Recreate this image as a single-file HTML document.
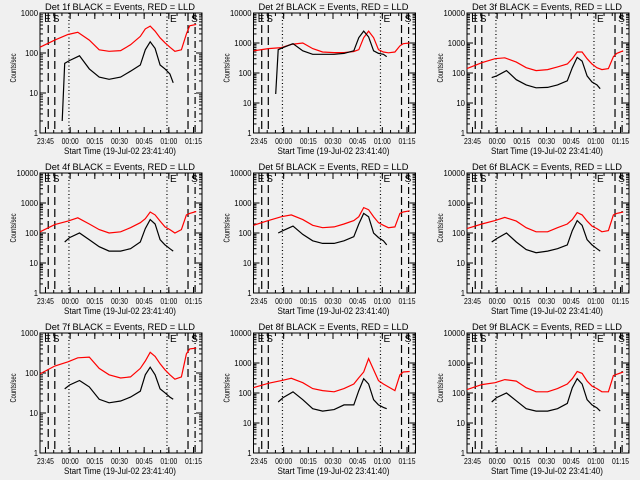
<!DOCTYPE html>
<html><head><meta charset="utf-8">
<style>
html,body{margin:0;padding:0;background:#f0f0f0;}
svg{display:block;font-family:"Liberation Sans",sans-serif;}
</style></head>
<body>
<svg id="chart" width="640" height="480" viewBox="0 0 640 480" xmlns="http://www.w3.org/2000/svg">
<rect x="0" y="0" width="640" height="480" fill="#f0f0f0"/>
</svg>
<script>
// minutes after 23:41:40
const redTimes = [0,9,17,23,30,36,42,49,55,61,64,67,70,73,76,79,82,86,89,91,95];
const blackTimes = [13.5,15,18,24,30,36,42,49,55,61,64,67,70,73,76,79,81];
const detNames = ["1f","2f","3f","4f","5f","6f","7f","8f","9f"];
const decades = [3,4,4,4,4,4,3,4,4];
const red1 = [140,210,290,330,210,120,110,115,160,260,400,470,350,240,180,140,110,120,300,480,520];
const red2 = [550,650,700,900,1000,650,500,480,480,520,600,1500,2500,1500,600,500,470,500,800,950,1000];
const red3 = [140,220,300,320,230,150,120,130,160,200,300,500,500,300,200,150,130,140,350,450,550];
const red4 = [110,190,250,320,200,130,100,110,150,220,300,500,400,250,160,130,100,130,400,450,520];
const red5 = [180,260,350,400,280,180,150,160,200,260,350,700,600,350,220,180,150,160,450,500,550];
const red6 = [140,200,260,330,250,150,110,110,150,200,280,480,400,250,170,140,110,120,400,450,500];
const red7 = [95,150,190,240,250,130,90,75,80,130,200,330,260,170,120,90,70,80,300,400,420];
const red8 = [150,210,260,310,220,140,120,110,140,200,320,500,1400,600,260,200,160,120,400,500,520];
const red9 = [130,190,220,280,250,150,110,110,140,200,300,520,450,250,170,140,110,110,380,420,500];
const black1 = [2,55,65,85,40,25,22,25,35,50,120,190,130,50,40,30,18];
const black2 = [20,600,700,950,550,420,420,420,450,550,1500,2500,1600,550,450,420,350];
const black3 = [null,70,80,120,60,40,32,33,40,55,150,330,250,80,50,40,30];
const black4 = [null,50,70,100,60,35,25,25,30,50,140,280,200,60,40,30,25];
const black5 = [null,100,120,170,90,55,45,45,55,75,200,450,350,100,70,55,40];
const black6 = [null,50,65,100,50,28,22,25,30,40,120,260,180,60,40,30,25];
const black7 = [null,40,50,65,45,22,18,20,25,35,90,140,90,40,32,25,22];
const black8 = [null,50,70,110,60,30,25,28,40,40,120,300,200,60,40,33,30];
const black9 = [null,50,70,100,55,30,25,25,30,45,150,300,200,60,40,32,25];
const reds = [red1,red2,red3,red4,red5,red6,red7,red8,red9];
const blacks = [black1,black2,black3,black4,black5,black6,black7,black8,black9];
const tickLabels = ["23:45","00:00","00:15","00:30","00:45","01:00","01:15"];
const tickMinutes = [3.33,18.33,33.33,48.33,63.33,78.33,93.33];
const markerMinutes = [5,9,17.6,77.2,90,94.3];

const NS="http://www.w3.org/2000/svg";
const svg=document.getElementById('chart');
function mk(tag,attrs,parent){const e=document.createElementNS(NS,tag);for(const k in attrs)e.setAttribute(k,attrs[k]);(parent||svg).appendChild(e);return e;}
const T_MAX=98.5, BW=162, BH=120;
for(let p=0;p<9;p++){
  const col=p%3,row=Math.floor(p/3);
  const L=40+col*213.5, T=13+row*160, R=L+BW, B=T+BH;
  const g=mk('g',{});
  
  
  const nd=decades[p];
  const xs=t=>L+t/T_MAX*BW;
  const ys=v=>B-Math.log10(v)/nd*BH;
  const title=mk('text',{x:(L+R)/2-1,y:T-3,'font-size':9.5,'text-anchor':'middle',fill:'#000',textLength:150,lengthAdjust:'spacingAndGlyphs'},g);
  title.textContent='Det '+detNames[p]+' BLACK = Events, RED = LLD';
  
  
  markerMinutes.forEach((m,i)=>{
    const x=xs(m);
    const dot=(i==2||i==3);
    const ln=mk('line',{x1:x,x2:x,y1:T,y2:B,stroke:'#000','stroke-width':1.2,'stroke-dasharray':dot?'1,2.5':(i==5?'7,3,1,3':'8,4')},g);
    
    
  });
  [['E',xs(markerMinutes[0])-4],['S',xs(markerMinutes[1])-2],['E',xs(markerMinutes[3])+3],['S',xs(markerMinutes[5])-4]].forEach(a=>{
    const t=mk('text',{x:a[1],y:T+9,'font-size':10,fill:'#000'},g);t.textContent=a[0];
    
    
  });
  const box=mk('rect',{x:L,y:T,width:BW,height:BH,fill:'none',stroke:'#000','stroke-width':1},g);
  
  
  for(let d=0;d<=nd;d++){
    const y=B-d/nd*BH;
    mk('line',{x1:L,x2:L+6,y1:y,y2:y,stroke:'#000'},g);
    mk('line',{x1:R,x2:R-6,y1:y,y2:y,stroke:'#000'},g);
    const s=String(Math.pow(10,d));
    const lab=mk('text',{x:L-2,y:y+3,'font-size':8.5,'text-anchor':'end',fill:'#000',textLength:s.length*4.3,lengthAdjust:'spacingAndGlyphs'},g);
    lab.textContent=s;
    
    
    if(d<nd)for(let k=2;k<10;k++){const yy=ys(Math.pow(10,d)*k);
      mk('line',{x1:L,x2:L+3,y1:yy,y2:yy,stroke:'#000'},g);
      mk('line',{x1:R,x2:R-3,y1:yy,y2:yy,stroke:'#000'},g);}
  }
  tickMinutes.forEach((m,i)=>{
    const x=xs(m);
    mk('line',{x1:x,x2:x,y1:B,y2:B-6,stroke:'#000'},g);
    mk('line',{x1:x,x2:x,y1:T,y2:T+6,stroke:'#000'},g);
    const lab=mk('text',{x:x,y:B+11,'font-size':8.5,'text-anchor':'middle',fill:'#000',textLength:17,lengthAdjust:'spacingAndGlyphs'},g);
    lab.textContent=tickLabels[i];
    
    
  });
  for(let m=3.33;m<T_MAX;m+=5){const x=xs(m);
    mk('line',{x1:x,x2:x,y1:B,y2:B-3,stroke:'#000'},g);mk('line',{x1:x,x2:x,y1:T,y2:T+3,stroke:'#000'},g);}
  const xl=mk('text',{x:(L+R)/2-1,y:B+21,'font-size':9,'text-anchor':'middle',fill:'#000',textLength:112,lengthAdjust:'spacingAndGlyphs'},g);
  xl.textContent='Start Time (19-Jul-02 23:41:40)';
  
  
  const yl=mk('text',{x:0,y:0,'font-size':8.5,'text-anchor':'middle',fill:'#000',textLength:29,lengthAdjust:'spacingAndGlyphs',transform:'translate('+(L-24)+','+(T+BH/2-5)+') rotate(-90)'},g);
  yl.textContent='Counts/sec';
  
  
  const mkPath=(times,vals)=>{let d='',pen=false;times.forEach((t,i)=>{const v=vals[i];if(v==null){pen=false;return;}d+=(pen?'L':'M')+xs(t).toFixed(1)+','+ys(v).toFixed(1);pen=true;});return d;};
  const rp=mk('path',{d:mkPath(redTimes,reds[p]),fill:'none',stroke:'#ff0000','stroke-width':1.2},g);
  
  
  const bp=mk('path',{d:mkPath(blackTimes,blacks[p]),fill:'none',stroke:'#000','stroke-width':1.2},g);
  
  
}
</script>
</body></html>
